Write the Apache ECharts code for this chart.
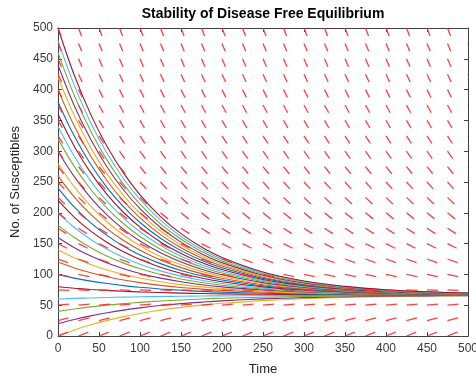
<!DOCTYPE html>
<html>
<head>
<meta charset="utf-8">
<script src="https://cdn.jsdelivr.net/npm/echarts@6/dist/echarts.min.js"></script>
<style>
  html, body { margin: 0; padding: 0; background: #fff; }
  #chart { width: 476px; height: 376px; }
</style>
</head>
<body>
<div id="chart"></div>
<script>
// sample times of the solution curves
const time = [0, 20, 40, 60, 80, 100, 125, 150, 175, 200, 250, 300, 350, 400, 450, 500]

// initial number of susceptibles for each curve
const initialS = [0, 20, 40, 60, 80, 100, 120, 140, 160, 180, 200, 220, 240, 260,
  280, 300, 320, 340, 360, 380, 400, 420, 440, 460, 480, 500]

// S(t), one row per curve (same order as initialS)
const curves = [
  [0, 9.8, 18.2, 25.4, 31.4, 36.6, 42, 46.5, 50.1, 53.1, 57.5, 60.5, 62.5, 63.8, 64.7, 65.3],
  [20, 26.9, 32.7, 37.7, 42, 45.6, 49.4, 52.5, 55, 57.1, 60.2, 62.3, 63.7, 64.6, 65.2, 65.6],
  [40, 43.9, 47.3, 50.1, 52.5, 54.6, 56.8, 58.5, 60, 61.2, 62.9, 64.1, 64.9, 65.4, 65.8, 66],
  [60, 61, 61.8, 62.5, 63.1, 63.6, 64.1, 64.5, 64.9, 65.2, 65.6, 65.9, 66.1, 66.2, 66.3, 66.4],
  [80, 77.6, 75.6, 74, 72.7, 71.6, 70.5, 69.6, 68.9, 68.4, 67.7, 67.2, 66.9, 66.8, 66.7, 66.6],
  [100, 94, 89.1, 85.1, 81.8, 79.1, 76.4, 74.2, 72.5, 71.2, 69.4, 68.3, 67.6, 67.2, 66.9, 66.8],
  [120, 110.5, 102.7, 96.2, 90.9, 86.6, 82.2, 78.8, 76.1, 74, 71.1, 69.3, 68.2, 67.6, 67.2, 66.9],
  [140, 126.9, 116.2, 107.3, 100.1, 94.1, 88.1, 83.4, 79.7, 76.9, 72.9, 70.4, 68.9, 68, 67.4, 67],
  [160, 143.4, 129.7, 118.4, 109.2, 101.6, 94, 88, 83.3, 79.7, 74.6, 71.4, 69.5, 68.4, 67.6, 67.2],
  [180, 159.8, 143.2, 129.5, 118.3, 109.1, 99.9, 92.6, 86.9, 82.5, 76.3, 72.5, 70.2, 68.8, 67.9, 67.3],
  [200, 176.2, 156.7, 140.7, 127.5, 116.6, 105.7, 97.2, 90.5, 85.3, 78, 73.6, 70.8, 69.2, 68.1, 67.5],
  [220, 192.7, 170.2, 151.8, 136.6, 124.1, 111.6, 101.8, 94.1, 88.1, 79.8, 74.6, 71.5, 69.5, 68.4, 67.6],
  [240, 209.1, 183.7, 162.9, 145.7, 131.6, 117.5, 106.4, 97.7, 90.9, 81.5, 75.7, 72.1, 69.9, 68.6, 67.8],
  [260, 225.6, 197.3, 174, 154.9, 139.1, 123.4, 111, 101.3, 93.8, 83.2, 76.7, 72.8, 70.3, 68.9, 67.9],
  [280, 242, 210.8, 185.1, 164, 146.6, 129.2, 115.6, 104.9, 96.6, 84.9, 77.8, 73.4, 70.7, 69.1, 68.1],
  [300, 258.4, 224.3, 196.2, 173.1, 154.1, 135.1, 120.2, 108.5, 99.4, 86.7, 78.9, 74.1, 71.1, 69.3, 68.2],
  [320, 274.9, 237.8, 207.3, 182.2, 161.6, 141, 124.8, 112.1, 102.2, 88.4, 79.9, 74.7, 71.5, 69.6, 68.4],
  [340, 291.3, 251.3, 218.4, 191.4, 169.2, 146.9, 129.4, 115.7, 105, 90.1, 81, 75.4, 71.9, 69.8, 68.5],
  [360, 307.8, 264.8, 229.5, 200.5, 176.7, 152.7, 134, 119.3, 107.9, 91.8, 82, 76, 72.3, 70.1, 68.7],
  [380, 324.2, 278.3, 240.6, 209.6, 184.2, 158.6, 138.6, 122.9, 110.7, 93.6, 83.1, 76.7, 72.7, 70.3, 68.8],
  [400, 340.6, 291.8, 251.7, 218.8, 191.7, 164.5, 143.2, 126.5, 113.5, 95.3, 84.1, 77.3, 73.1, 70.6, 69],
  [420, 357.1, 305.4, 262.8, 227.9, 199.2, 170.4, 147.8, 130.1, 116.3, 97, 85.2, 78, 73.5, 70.8, 69.1],
  [440, 373.5, 318.9, 273.9, 237, 206.7, 176.2, 152.4, 133.7, 119.1, 98.7, 86.3, 78.6, 73.9, 71.1, 69.3],
  [460, 390, 332.4, 285.1, 246.2, 214.2, 182.1, 157, 137.3, 121.9, 100.5, 87.3, 79.3, 74.3, 71.3, 69.4],
  [480, 406.4, 345.9, 296.2, 255.3, 221.7, 188, 161.6, 140.9, 124.8, 102.2, 88.4, 79.9, 74.7, 71.5, 69.6],
  [500, 422.8, 359.4, 307.3, 264.4, 229.2, 193.9, 166.2, 144.5, 127.6, 103.9, 89.4, 80.6, 75.1, 71.8, 69.7]
]

// direction field: grid positions and dS/dt for each row of the grid
const fieldT = [0, 25, 50, 75, 100, 125, 150, 175, 200, 225, 250, 275, 300, 325, 350, 375, 400, 425, 450, 475, 500]
const fieldS = [0, 25, 50, 75, 100, 125, 150, 175, 200, 225, 250, 275, 300, 325, 350, 375, 400, 425, 450, 475, 500]
const fieldSlope = [0.53, 0.33, 0.13, -0.07, -0.27, -0.47, -0.67, -0.87, -1.07, -1.27, -1.47,
  -1.67, -1.87, -2.07, -2.27, -2.47, -2.67, -2.87, -3.07, -3.27, -3.47]

const matlabColors = ['#0072BD', '#D95319', '#EDB120', '#7E2F8E', '#77AC30', '#4DBEEE', '#A2142F']
const FONT = '"Liberation Sans", Arial, Helvetica, sans-serif'
const AXIS_COLOR = '#404040'
const DASH_LEN = 13.5 // length of a field dash, in data units

const chart = echarts.init(document.getElementById('chart'), null, { renderer: 'canvas' })

const fieldData = []
fieldS.forEach((s, j) => {
  fieldT.forEach((t) => {
    fieldData.push([t, s, fieldSlope[j]])
  })
})

const curveSeries = initialS.map((s0, i) => ({
  name: 'S0=' + s0,
  type: 'line',
  showSymbol: false,
  smooth: 0.4,
  silent: true,
  color: matlabColors[(i + 2) % matlabColors.length],
  lineStyle: { width: 1.1 },
  data: time.map((t, k) => [t, curves[i][k]]),
  z: 2
}))

const fieldSeries = {
  type: 'custom',
  silent: true,
  clip: true,
  z: 3,
  data: fieldData,
  renderItem: (params, api) => {
    const t = api.value(0)
    const s = api.value(1)
    const m = api.value(2)
    const n = Math.sqrt(1 + m * m)
    const p0 = api.coord([t, s])
    const p1 = api.coord([t + DASH_LEN / n, s + DASH_LEN * m / n])
    return {
      type: 'line',
      shape: { x1: p0[0], y1: p0[1], x2: p1[0], y2: p1[1] },
      style: { stroke: '#ff2a2a', lineWidth: 1.3, opacity: 0.9 }
    }
  }
}

const baseAxis = {
  type: 'value',
  min: 0,
  max: 500,
  interval: 50,
  splitLine: { show: false },
  axisLine: { show: true, onZero: false, lineStyle: { color: AXIS_COLOR, width: 1 } },
  axisTick: { show: true, inside: true, length: 4, lineStyle: { color: AXIS_COLOR } },
  nameTextStyle: { color: '#262626', fontSize: 13, fontFamily: FONT }
}

const options = {
  animation: false,
  backgroundColor: '#ffffff',
  title: {
    text: 'Stability of Disease Free Equilibrium',
    left: 263,
    top: 7,
    padding: 0,
    textAlign: 'center',
    textStyle: { color: '#000', fontSize: 14, fontWeight: 'bold', fontFamily: FONT }
  },
  grid: { left: 58, right: 8, top: 28, bottom: 40, containLabel: false, outerBoundsMode: 'none' },
  xAxis: [
    Object.assign({}, baseAxis, {
      position: 'bottom',
      name: 'Time',
      nameLocation: 'middle',
      nameGap: 27,
      axisLabel: { color: '#3a3a3a', fontSize: 12, fontFamily: FONT, margin: 7, hideOverlap: false }
    }),
    Object.assign({}, baseAxis, {
      position: 'top',
      axisLabel: { show: false }
    })
  ],
  yAxis: [
    Object.assign({}, baseAxis, {
      position: 'left',
      name: 'No. of Susceptibles',
      nameLocation: 'middle',
      nameGap: 27,
      axisLabel: { color: '#3a3a3a', fontSize: 12, fontFamily: FONT, margin: 5 }
    }),
    Object.assign({}, baseAxis, {
      position: 'right',
      axisLabel: { show: false }
    })
  ],
  series: [...curveSeries, fieldSeries]
}

chart.setOption(options, true)
</script>
</body>
</html>
